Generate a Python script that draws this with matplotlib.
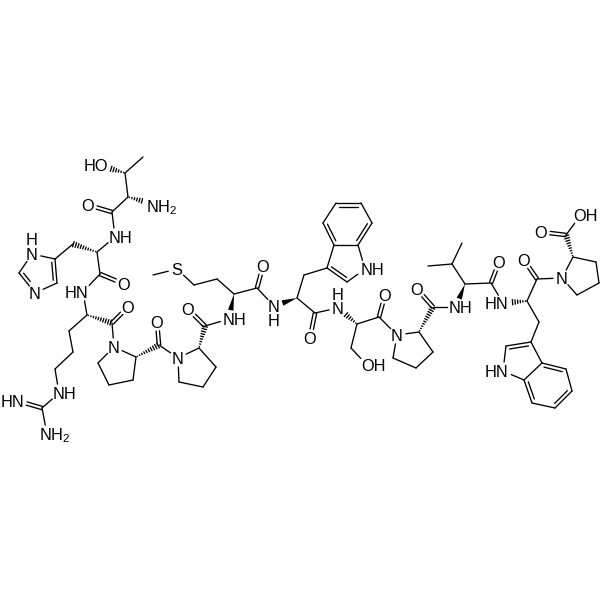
import matplotlib
matplotlib.use('Agg')
import matplotlib.pyplot as plt
from matplotlib.patches import Polygon
import numpy as np

plt.rcParams['font.family'] = ['Liberation Sans', 'DejaVu Sans']
plt.rcParams['mathtext.fontset'] = 'custom'
plt.rcParams['mathtext.rm'] = 'Liberation Sans'
plt.rcParams['mathtext.default'] = 'regular'

# atom name -> picture position
atoms = {
    # threonine
    'T_me': (143, 157), 'T_b': (125, 173), 'T_oh': (102, 166), 'T_a': (128, 197),
    'T_n': (153, 204), 'T_c': (112, 212), 'T_o': (88, 205),
    # histidine
    'H_n': (115, 237), 'H_a': (97, 252), 'H_cb': (73, 244), 'H_c4': (55, 259),
    'H_n1': (32, 254), 'H_c2': (19, 273), 'H_n3': (35, 293), 'H_c5': (57, 283),
    'H_c': (100, 274), 'H_o': (124, 284),
    # arginine
    'R_n': (83, 292), 'R_a': (87, 315), 'R_c': (112, 323), 'R_o': (128, 307),
    'R_b': (69, 331), 'R_g': (73, 352), 'R_d': (55, 369), 'R_ne': (59, 393),
    'R_cz': (42, 408), 'R_nh': (18, 401), 'R_nh2': (47, 434),
    # proline 1
    'P1_n': (114, 347), 'P1_a': (136, 357), 'P1_b': (133, 380), 'P1_g': (109, 385),
    'P1_d': (98, 363), 'P1_c': (159, 345), 'P1_o': (157, 322),
    # proline 2
    'P2_n': (178, 358), 'P2_a': (199, 348), 'P2_b': (216, 367), 'P2_g': (203, 387),
    'P2_d': (179, 382), 'P2_c': (205, 326), 'P2_o': (188, 309),
    # methionine
    'M_n': (229, 319), 'M_a': (234, 294), 'M_b': (217, 279), 'M_g': (194, 285),
    'M_s': (177, 269), 'M_me': (153, 275), 'M_c': (257, 288), 'M_o': (263, 266),
    # tryptophan 1
    'W1_n': (274, 306), 'W1_a': (297, 298), 'W1_cb': (304, 275), 'W1_c3': (327, 268),
    'W1_c2': (347, 282), 'W1_n1': (365, 269), 'W1_c7a': (358, 245), 'W1_c3a': (334, 245),
    'W1_c4': (323, 223), 'W1_c5': (336, 203), 'W1_c6': (361, 203), 'W1_c7': (372, 223),
    'W1_c': (315, 313), 'W1_o': (310, 338),
    # serine
    'S_n': (338, 308), 'S_a': (357, 324), 'S_b': (351, 348), 'S_og': (367, 365),
    'S_c': (379, 317), 'S_o': (385, 295),
    # proline 3
    'P3_n': (397, 335), 'P3_a': (419, 332), 'P3_b': (433, 352), 'P3_g': (416, 368),
    'P3_d': (393, 358), 'P3_c': (433, 307), 'P3_o': (417, 289),
    # valine
    'V_n': (456, 307), 'V_a': (465, 284), 'V_b': (452, 264), 'V_me1': (428, 266),
    'V_me2': (462, 243), 'V_c': (491, 283), 'V_o': (499, 262),
    # tryptophan 2
    'W2_n': (503, 303), 'W2_a': (527, 301), 'W2_cb': (539, 322), 'W2_c3': (531, 342),
    'W2_c2': (506, 346), 'W2_n1': (503, 371), 'W2_c7a': (524, 380), 'W2_c3a': (542, 363),
    'W2_c4': (566, 369), 'W2_c5': (572, 391), 'W2_c6': (555, 408), 'W2_c7': (532, 403),
    'W2_c': (537, 279), 'W2_o': (524, 260),
    # proline 4
    'P4_n': (562, 278), 'P4_a': (573, 257), 'P4_b': (596, 262), 'P4_g': (599, 283),
    'P4_d': (577, 295), 'P4_c': (566, 235), 'P4_o': (541, 232), 'P4_oh': (580, 216),
}

single_bonds = [
    ('T_me', 'T_b'), ('T_b', 'T_a'), ('T_a', 'T_c'), ('T_c', 'H_n'), ('H_n', 'H_a'),
    ('H_cb', 'H_c4'), ('H_c4', 'H_n1'), ('H_n1', 'H_c2'), ('H_n3', 'H_c5'),
    ('H_a', 'H_c'), ('H_c', 'R_n'), ('R_n', 'R_a'), ('R_a', 'R_b'), ('R_b', 'R_g'),
    ('R_g', 'R_d'), ('R_d', 'R_ne'), ('R_ne', 'R_cz'), ('R_cz', 'R_nh2'),
    ('R_c', 'P1_n'), ('P1_n', 'P1_a'), ('P1_a', 'P1_b'), ('P1_b', 'P1_g'),
    ('P1_g', 'P1_d'), ('P1_d', 'P1_n'), ('P1_c', 'P2_n'), ('P2_n', 'P2_a'),
    ('P2_a', 'P2_b'), ('P2_b', 'P2_g'), ('P2_g', 'P2_d'), ('P2_d', 'P2_n'),
    ('P2_c', 'M_n'), ('M_a', 'M_b'), ('M_b', 'M_g'), ('M_g', 'M_s'), ('M_s', 'M_me'),
    ('M_a', 'M_c'), ('M_c', 'W1_n'), ('W1_a', 'W1_cb'), ('W1_cb', 'W1_c3'),
    ('W1_a', 'W1_c'), ('W1_c2', 'W1_n1'), ('W1_n1', 'W1_c7a'), ('W1_c3', 'W1_c3a'),
    ('W1_c3a', 'W1_c7a'), ('W1_c4', 'W1_c5'), ('W1_c6', 'W1_c7'), ('W1_c', 'S_n'),
    ('S_a', 'S_b'), ('S_b', 'S_og'), ('S_a', 'S_c'), ('S_c', 'P3_n'), ('P3_n', 'P3_a'),
    ('P3_a', 'P3_b'), ('P3_b', 'P3_g'), ('P3_g', 'P3_d'), ('P3_d', 'P3_n'),
    ('P3_c', 'V_n'), ('V_a', 'V_b'), ('V_b', 'V_me1'), ('V_b', 'V_me2'), ('V_a', 'V_c'),
    ('V_c', 'W2_n'), ('W2_a', 'W2_cb'), ('W2_cb', 'W2_c3'), ('W2_a', 'W2_c'),
    ('W2_c2', 'W2_n1'), ('W2_n1', 'W2_c7a'), ('W2_c3', 'W2_c3a'), ('W2_c3a', 'W2_c7a'),
    ('W2_c4', 'W2_c5'), ('W2_c6', 'W2_c7'), ('W2_c', 'P4_n'), ('P4_n', 'P4_a'),
    ('P4_a', 'P4_b'), ('P4_b', 'P4_g'), ('P4_g', 'P4_d'), ('P4_d', 'P4_n'),
    ('P4_c', 'P4_oh'),
]

# terminal C=O and C=N, two lines either side of the bond axis
centred_doubles = [
    ('T_c', 'T_o'), ('H_c', 'H_o'), ('R_c', 'R_o'), ('R_cz', 'R_nh'), ('P1_c', 'P1_o'),
    ('P2_c', 'P2_o'), ('M_c', 'M_o'), ('W1_c', 'W1_o'), ('S_c', 'S_o'), ('P3_c', 'P3_o'),
    ('V_c', 'V_o'), ('W2_c', 'W2_o'), ('P4_c', 'P4_o'),
]

# ring doubles, second line drawn towards the third atom
ring_doubles = [
    ('H_c4', 'H_c5', 'H_n1'), ('H_c2', 'H_n3', 'H_c5'),
    ('W1_c3', 'W1_c2', 'W1_n1'), ('W1_c3a', 'W1_c4', 'W1_c7'),
    ('W1_c5', 'W1_c6', 'W1_c3a'), ('W1_c7', 'W1_c7a', 'W1_c5'),
    ('W2_c3', 'W2_c2', 'W2_n1'), ('W2_c3a', 'W2_c4', 'W2_c7'),
    ('W2_c5', 'W2_c6', 'W2_c3a'), ('W2_c7', 'W2_c7a', 'W2_c5'),
]

wedge_bonds = [('M_a', 'M_n'), ('W1_a', 'W1_n'), ('V_a', 'V_n')]

hash_bonds = [
    ('T_b', 'T_oh'), ('T_a', 'T_n'), ('H_a', 'H_cb'), ('R_a', 'R_c'), ('P1_a', 'P1_c'),
    ('P2_a', 'P2_c'), ('S_a', 'S_n'), ('P3_a', 'P3_c'), ('W2_a', 'W2_n'), ('P4_a', 'P4_c'),
]

# atoms that carry a letter, bonds stop short of them
labelled_atoms = {
    'T_oh', 'T_n', 'T_o', 'H_n', 'H_n1', 'H_n3', 'H_o', 'R_n', 'R_o', 'R_ne', 'R_nh',
    'R_nh2', 'P1_n', 'P1_o', 'P2_n', 'P2_o', 'M_n', 'M_s', 'M_o', 'W1_n', 'W1_n1', 'W1_o',
    'S_n', 'S_og', 'S_o', 'P3_n', 'P3_o', 'V_n', 'V_o', 'W2_n', 'W2_n1', 'W2_o', 'P4_n',
    'P4_o', 'P4_oh',
}

label_texts = ['HO', 'NH$_2$', 'O', 'NH', 'H', 'N', 'N', 'O', 'HN', 'O', 'N', 'NH', 'HN',
               'NH$_2$', 'O', 'N', 'O', 'NH', 'S', 'O', 'N', 'H', 'O', 'NH', 'H', 'N', 'OH',
               'O', 'N', 'O', 'NH', 'O', 'HN', 'O', 'N', 'O', 'OH', 'HN']
label_x = [96, 162, 88, 121, 32, 32, 35, 124, 77, 128, 114, 65, 12, 55, 157, 178, 188, 235,
           177, 263, 274, 274, 310, 372, 338, 338, 373, 385, 397, 417, 461, 499, 497, 524,
           562, 541, 586, 497]
label_y = [165, 206, 205, 237, 239, 254, 293, 284, 292, 307, 347, 393, 401, 434, 322, 358,
           309, 319, 269, 266, 306, 320, 338, 269, 294, 308, 365, 295, 335, 289, 307, 262,
           303, 260, 278, 232, 215, 371]

LINE = '#000000'
LW = 0.95
GAP = 9.0


def ends(a, b):
    # bond end points, cut back where an atom has a letter
    p = np.array(atoms[a], dtype=float)
    q = np.array(atoms[b], dtype=float)
    u = (q - p) / np.linalg.norm(q - p)
    if a in labelled_atoms:
        p = p + u * GAP
    if b in labelled_atoms:
        q = q - u * GAP
    return p, q, u


def draw_line(ax, p, q):
    ax.plot([p[0], q[0]], [p[1], q[1]], color=LINE, lw=LW, solid_capstyle='round')


fig = plt.figure(figsize=(6, 6), dpi=100)
ax = fig.add_axes([0, 0, 1, 1])
ax.set_xlim(0, 600)
ax.set_ylim(600, 0)
ax.axis('off')

for a, b in single_bonds:
    p, q, u = ends(a, b)
    draw_line(ax, p, q)

for a, b in centred_doubles:
    p, q, u = ends(a, b)
    n = np.array([-u[1], u[0]])
    draw_line(ax, p + n * 1.7, q + n * 1.7)
    draw_line(ax, p - n * 1.7, q - n * 1.7)

for a, b, side in ring_doubles:
    p, q, u = ends(a, b)
    draw_line(ax, p, q)
    n = np.array([-u[1], u[0]])
    if np.dot(np.array(atoms[side], dtype=float) - p, n) < 0:
        n = -n
    draw_line(ax, p + n * 3.5 + u * 3, q + n * 3.5 - u * 3)

for a, b in wedge_bonds:
    p, q, u = ends(a, b)
    n = np.array([-u[1], u[0]])
    ax.add_patch(Polygon([p, q + n * 2.8, q - n * 2.8], closed=True, color=LINE, lw=0))

for a, b in hash_bonds:
    p, q, u = ends(a, b)
    n = np.array([-u[1], u[0]])
    length = np.linalg.norm(q - p)
    for t in np.arange(1.5, length, 2.6):
        w = 2.8 * t / length
        draw_line(ax, p + u * t + n * w, p + u * t - n * w)

for s, x, y in zip(label_texts, label_x, label_y):
    ax.text(x, y + 6, s, fontsize=11.8, color=LINE, ha='center', va='baseline')

fig.savefig('out.png', dpi=100)
